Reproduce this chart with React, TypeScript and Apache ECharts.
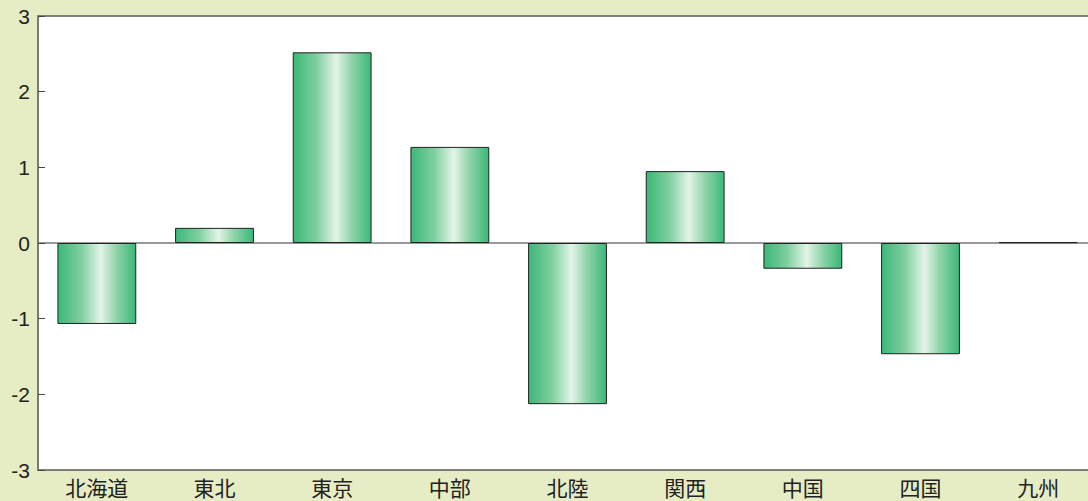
import React, { useEffect, useRef } from "react";
import * as echarts from "echarts";

const categories = ["北海道", "東北", "東京", "中部", "北陸", "関西", "中国", "四国", "九州"];
const values = [-1.07, 0.2, 2.52, 1.27, -2.13, 0.95, -0.34, -1.47, 0.01];
const yTicks = [-3, -2, -1, 0, 1, 2, 3];

export default function App() {
  const ref = useRef<HTMLDivElement>(null);
  useEffect(() => {
    document.body.style.margin = "0";
    document.body.style.overflow = "hidden";
    const chart = echarts.init(ref.current!, null, { renderer: "svg" });
    const grad = new echarts.graphic.LinearGradient(0, 0, 1, 0, [
      { offset: 0, color: "#3bb877" },
      { offset: 0.3, color: "#7fcf9f" },
      { offset: 0.55, color: "#e4f4e9" },
      { offset: 0.75, color: "#8fd4a9" },
      { offset: 1, color: "#3bb877" },
    ]);
    chart.setOption({
      animation: false,
      backgroundColor: "#e6edc5",
      grid: {
        left: 38,
        right: 0,
        top: 16,
        bottom: 31,
        show: true,
        backgroundColor: "#ffffff",
        borderColor: "#5a5a5a",
        borderWidth: 1.5,
      },
      xAxis: {
        type: "category",
        data: categories,
        axisLine: { onZero: true, lineStyle: { color: "#777", width: 1.5 } },
        axisTick: { show: false },
        axisLabel: {
          interval: 0,
          fontFamily: "Noto Sans CJK JP",
          fontSize: 21,
          color: "#222",
          margin: 6,
        },
        position: "bottom",
      },
      yAxis: {
        type: "value",
        min: yTicks[0],
        max: yTicks[yTicks.length - 1],
        interval: 1,
        splitLine: { show: false },
        axisLine: { show: true, lineStyle: { color: "#777", width: 1.5 } },
        axisTick: { show: true, inside: true, length: 7, lineStyle: { color: "#444" } },
        axisLabel: {
          fontFamily: "Liberation Sans",
          fontSize: 21,
          color: "#222",
          margin: 8,
        },
      },
      series: [
        {
          type: "bar",
          data: values,
          barWidth: "67%",
          itemStyle: { color: grad, borderColor: "#222", borderWidth: 1 },
        },
      ],
    });
    return () => chart.dispose();
  }, []);
  return (
    <div style={{ width: 1088, height: 501, overflow: "hidden" }}>
      <div ref={ref} style={{ width: 1097, height: 501 }} />
    </div>
  );
}
